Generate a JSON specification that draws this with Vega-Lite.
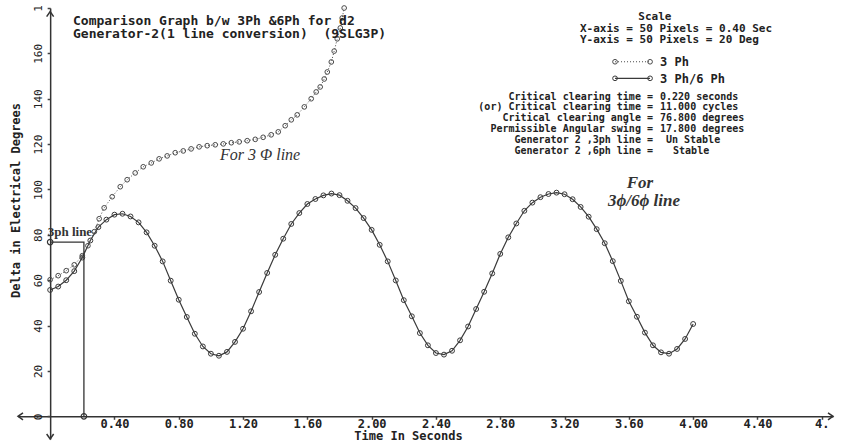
{
  "$schema": "https://vega.github.io/schema/vega-lite/v6.json",
  "width": 815,
  "height": 431,
  "autosize": {"type": "none"},
  "padding": {"left": 18, "top": 8, "right": 33, "bottom": 3},
  "background": "white",
  "config": {"view": {"stroke": null}},
  "datasets": {
    "p6": [
      {"t":0.00,"d":55.7},{"t":0.05,"d":57.2},{"t":0.10,"d":60.0},{"t":0.15,"d":64.0},{"t":0.20,"d":70.0},
      {"t":0.25,"d":77.5},{"t":0.30,"d":83.4},{"t":0.35,"d":86.7},{"t":0.40,"d":88.9},{"t":0.45,"d":89.3},
      {"t":0.50,"d":88.1},{"t":0.55,"d":85.5},{"t":0.60,"d":81.1},{"t":0.65,"d":75.2},{"t":0.70,"d":68.3},
      {"t":0.75,"d":59.8},{"t":0.80,"d":51.4},{"t":0.85,"d":43.8},{"t":0.90,"d":36.4},{"t":0.95,"d":30.8},
      {"t":1.00,"d":27.6},{"t":1.05,"d":26.7},{"t":1.10,"d":28.4},{"t":1.15,"d":32.8},{"t":1.20,"d":38.6},
      {"t":1.25,"d":46.3},{"t":1.30,"d":54.8},{"t":1.35,"d":63.2},{"t":1.40,"d":71.2},{"t":1.45,"d":78.3},
      {"t":1.50,"d":84.8},{"t":1.55,"d":89.6},{"t":1.60,"d":93.6},{"t":1.65,"d":95.8},{"t":1.70,"d":97.4},
      {"t":1.75,"d":98.2},{"t":1.80,"d":97.5},{"t":1.85,"d":95.0},{"t":1.90,"d":91.8},{"t":1.95,"d":87.4},
      {"t":2.00,"d":82.2},{"t":2.05,"d":75.6},{"t":2.10,"d":68.3},{"t":2.15,"d":59.9},{"t":2.20,"d":51.2},
      {"t":2.25,"d":44.1},{"t":2.30,"d":36.7},{"t":2.35,"d":31.3},{"t":2.40,"d":27.9},{"t":2.45,"d":27.2},
      {"t":2.50,"d":28.9},{"t":2.55,"d":33.5},{"t":2.60,"d":39.6},{"t":2.65,"d":47.3},{"t":2.70,"d":54.9},
      {"t":2.75,"d":63.0},{"t":2.80,"d":71.6},{"t":2.85,"d":78.9},{"t":2.90,"d":85.0},{"t":2.95,"d":90.6},
      {"t":3.00,"d":94.2},{"t":3.05,"d":96.6},{"t":3.10,"d":98.0},{"t":3.15,"d":98.6},{"t":3.20,"d":97.9},
      {"t":3.25,"d":95.7},{"t":3.30,"d":92.3},{"t":3.35,"d":88.0},{"t":3.40,"d":82.5},{"t":3.45,"d":76.3},
      {"t":3.50,"d":68.4},{"t":3.55,"d":59.7},{"t":3.60,"d":50.7},{"t":3.65,"d":43.9},{"t":3.70,"d":36.9},
      {"t":3.75,"d":31.3},{"t":3.80,"d":28.2},{"t":3.85,"d":27.6},{"t":3.90,"d":29.7},{"t":3.95,"d":34.1},
      {"t":4.00,"d":40.7}
    ],
    "p3": [
      {"t":0.000,"d":60.2},{"t":0.050,"d":62.0},{"t":0.100,"d":64.2},{"t":0.150,"d":66.8},{"t":0.200,"d":70.8},
      {"t":0.235,"d":75.2},{"t":0.275,"d":81.4},{"t":0.305,"d":87.1},{"t":0.336,"d":91.9},{"t":0.386,"d":96.8},
      {"t":0.436,"d":101.2},{"t":0.479,"d":104.3},{"t":0.529,"d":107.3},{"t":0.579,"d":110.0},{"t":0.629,"d":111.7},
      {"t":0.678,"d":113.5},{"t":0.728,"d":114.8},{"t":0.778,"d":116.2},{"t":0.828,"d":117.0},{"t":0.877,"d":117.9},
      {"t":0.927,"d":118.8},{"t":0.977,"d":119.3},{"t":1.027,"d":119.7},{"t":1.077,"d":120.1},{"t":1.127,"d":120.6},
      {"t":1.176,"d":121.0},{"t":1.226,"d":121.5},{"t":1.276,"d":122.1},{"t":1.325,"d":123.0},{"t":1.375,"d":124.1},
      {"t":1.419,"d":125.4},{"t":1.462,"d":128.1},{"t":1.500,"d":130.7},{"t":1.537,"d":132.9},{"t":1.581,"d":136.4},
      {"t":1.624,"d":140.0},{"t":1.655,"d":143.0},{"t":1.680,"d":145.2},{"t":1.705,"d":148.7},{"t":1.724,"d":151.8},
      {"t":1.749,"d":156.2},{"t":1.767,"d":161.0},{"t":1.786,"d":166.4},{"t":1.805,"d":171.2},{"t":1.817,"d":175.6},
      {"t":1.829,"d":180.0}
    ],
    "box": [{"t":0,"d":76.8,"o":1},{"t":0.21,"d":76.8,"o":2},{"t":0.21,"d":0,"o":3}],
    "boxpts": [{"t":0,"d":76.8},{"t":0.21,"d":0}],
    "arrows": [
      {"t":-0.2,"d":0,"dir":"left"},{"t":4.87,"d":0,"dir":"right"},
      {"t":0,"d":178.4,"dir":"up"},{"t":0,"d":-10,"dir":"down"}
    ],
    "leg3": [{"t":3.514,"d":156.3},{"t":3.732,"d":156.3}],
    "leg6": [{"t":3.514,"d":149.0},{"t":3.732,"d":149.0}],
    "legtext": [{"t":3.794,"d":156.3,"text":"3 Ph"},{"t":3.794,"d":148.8,"text":"3 Ph/6 Ph"}],
    "titles": [
      {"t":0.142,"d":172.5,"text":"Comparison Graph b/w 3Ph &6Ph for d2"},
      {"t":0.142,"d":166.6,"text":"Generator-2(1 line conversion) \u00a0(9SLG3P)"}
    ],
    "scaleC": [{"t":3.762,"d":174.9,"text":"Scale"}],
    "scaleL": [
      {"t":3.296,"d":169.6,"text":"X-axis = 50 Pixels = 0.40 Sec"},
      {"t":3.296,"d":164.5,"text":"Y-axis = 50 Pixels = 20 Deg"}
    ],
    "infoL": [
      {"t":3.750,"d":139.66,"text":"Critical clearing time ="},
      {"t":3.750,"d":134.90,"text":"(or) Critical clearing time ="},
      {"t":3.750,"d":130.14,"text":"Critical clearing angle ="},
      {"t":3.750,"d":125.37,"text":"Permissible Angular swing ="},
      {"t":3.750,"d":120.61,"text":"Generator 2 ,3ph line ="},
      {"t":3.750,"d":115.85,"text":"Generator 2 ,6ph line ="}
    ],
    "infoR": [
      {"t":3.794,"d":139.66,"text":"0.220 seconds"},
      {"t":3.794,"d":134.90,"text":"11.000 cycles"},
      {"t":3.794,"d":130.14,"text":"76.800 degrees"},
      {"t":3.794,"d":125.37,"text":"17.800 degrees"},
      {"t":3.831,"d":120.61,"text":"Un Stable"},
      {"t":3.875,"d":115.85,"text":"Stable"}
    ],
    "ital": [
      {"t":1.306,"d":115.2,"text":"For 3 Φ line"}
    ],
    "italB": [
      {"t":3.669,"d":102.9,"text":"For"},
      {"t":3.694,"d":94.9,"text":"3ϕ/6ϕ line"}
    ],
    "phline": [{"t":0.123,"d":81.2,"text":"3ph line"}]
  },
  "encoding": {
    "x": {
      "field": "t", "type": "quantitative",
      "scale": {"domain": [-0.2, 4.87], "nice": false, "zero": false},
      "axis": {
        "orient": "bottom", "offset": -22.7,
        "values": [0.4, 0.8, 1.2, 1.6, 2.0, 2.4, 2.8, 3.2, 3.6, 4.0, 4.4, 4.8],
        "labelExpr": "datum.value > 4.7 ? '4.\u00a0\u00a0' : format(datum.value, '.2f')",
        "labelFont": "DejaVu Sans Mono", "labelFontWeight": "bold", "labelFontSize": 12,
        "labelColor": "#222", "labelPadding": -1, "labelFlush": false, "labelOverlap": false,
        "tickSize": 3, "tickWidth": 1.5, "tickColor": "#444",
        "domainColor": "#333", "domainWidth": 1.5, "grid": false,
        "title": "Time In Seconds", "titleFont": "DejaVu Sans Mono", "titleFontWeight": "bold",
        "titleFontSize": 12, "titleColor": "#222", "titleX": 390, "titleY": 23.5,
        "titleBaseline": "alphabetic", "titleAlign": "center"
      }
    },
    "y": {
      "field": "d", "type": "quantitative",
      "scale": {"domain": [-10, 180], "nice": false, "zero": false},
      "axis": {
        "orient": "left", "offset": -32.15,
        "values": [0, 20, 40, 60, 80, 100, 120, 140, 160, 180],
        "labelExpr": "datum.value == 180 ? '1\u00a0\u00a0' : datum.label",
        "labelAngle": -90, "labelAlign": "center", "labelBaseline": "middle",
        "labelFont": "DejaVu Sans Mono", "labelFontSize": 11, "labelColor": "#222",
        "labelPadding": 9, "labelFlush": false, "labelOverlap": false,
        "tickSize": 3, "tickWidth": 1.5, "tickColor": "#444",
        "domainColor": "#333", "domainWidth": 1.5, "grid": false,
        "title": "Delta in Electrical Degrees", "titleFont": "DejaVu Sans Mono", "titleFontWeight": "bold",
        "titleFontSize": 12, "titleColor": "#222", "titleAngle": 270,
        "titleX": -35, "titleY": 192, "titleAlign": "center", "titleBaseline": "middle"
      }
    }
  },
  "layer": [
    {"data": {"name": "p6"}, "mark": {"type": "line", "stroke": "#3a3a3a", "strokeWidth": 1.2}},
    {"data": {"name": "p6"}, "mark": {"type": "point", "shape": "circle", "filled": false, "size": 24, "stroke": "#3a3a3a", "strokeWidth": 1, "opacity": 1}},
    {"data": {"name": "p3"}, "mark": {"type": "line", "stroke": "#4a4a4a", "strokeWidth": 1, "strokeDash": [1, 2]}},
    {"data": {"name": "p3"}, "mark": {"type": "point", "shape": "circle", "filled": false, "size": 22, "stroke": "#4a4a4a", "strokeWidth": 1, "opacity": 1}},
    {"data": {"name": "box"}, "mark": {"type": "line", "stroke": "#333", "strokeWidth": 1.3}, "encoding": {"order": {"field": "o", "type": "quantitative"}}},
    {"data": {"name": "boxpts"}, "mark": {"type": "point", "shape": "circle", "filled": false, "size": 30, "stroke": "#333", "strokeWidth": 1.2, "opacity": 1}},
    {"data": {"name": "arrows"}, "mark": {"type": "point", "filled": false, "size": 100, "stroke": "#333", "strokeWidth": 1.5, "opacity": 1},
     "encoding": {"shape": {"field": "dir", "type": "nominal", "legend": null,
       "scale": {"domain": ["left", "right", "up", "down"],
                 "range": ["M1,-0.7L0,0L1,0.7", "M-1,-0.7L0,0L-1,0.7", "M-0.7,1L0,0L0.7,1", "M-0.7,-1L0,0L0.7,-1"]}}}},
    {"data": {"name": "leg3"}, "mark": {"type": "line", "stroke": "#4a4a4a", "strokeWidth": 1, "strokeDash": [1, 2]}},
    {"data": {"name": "leg3"}, "mark": {"type": "point", "shape": "circle", "filled": false, "size": 22, "stroke": "#4a4a4a", "strokeWidth": 1, "opacity": 1}},
    {"data": {"name": "leg6"}, "mark": {"type": "line", "stroke": "#3a3a3a", "strokeWidth": 1.2}},
    {"data": {"name": "leg6"}, "mark": {"type": "point", "shape": "circle", "filled": false, "size": 22, "stroke": "#3a3a3a", "strokeWidth": 1, "opacity": 1}},
    {"data": {"name": "legtext"}, "mark": {"type": "text", "align": "left", "baseline": "middle", "font": "DejaVu Sans Mono", "fontWeight": "bold", "fontSize": 12, "fill": "#222"}, "encoding": {"text": {"field": "text"}}},
    {"data": {"name": "titles"}, "mark": {"type": "text", "align": "left", "baseline": "alphabetic", "font": "DejaVu Sans Mono", "fontWeight": "bold", "fontSize": 13, "fill": "#222"}, "encoding": {"text": {"field": "text"}}},
    {"data": {"name": "scaleC"}, "mark": {"type": "text", "align": "center", "baseline": "alphabetic", "font": "DejaVu Sans Mono", "fontWeight": "bold", "fontSize": 11, "fill": "#222"}, "encoding": {"text": {"field": "text"}}},
    {"data": {"name": "scaleL"}, "mark": {"type": "text", "align": "left", "baseline": "alphabetic", "font": "DejaVu Sans Mono", "fontWeight": "bold", "fontSize": 11, "fill": "#222"}, "encoding": {"text": {"field": "text"}}},
    {"data": {"name": "infoL"}, "mark": {"type": "text", "align": "right", "baseline": "alphabetic", "font": "DejaVu Sans Mono", "fontWeight": "bold", "fontSize": 10, "fill": "#222"}, "encoding": {"text": {"field": "text"}}},
    {"data": {"name": "infoR"}, "mark": {"type": "text", "align": "left", "baseline": "alphabetic", "font": "DejaVu Sans Mono", "fontWeight": "bold", "fontSize": 10, "fill": "#222"}, "encoding": {"text": {"field": "text"}}},
    {"data": {"name": "ital"}, "mark": {"type": "text", "align": "center", "baseline": "middle", "font": "Liberation Serif", "fontStyle": "italic", "fontSize": 16, "fill": "#333"}, "encoding": {"text": {"field": "text"}}},
    {"data": {"name": "italB"}, "mark": {"type": "text", "align": "center", "baseline": "middle", "font": "Liberation Serif", "fontStyle": "italic", "fontWeight": "bold", "fontSize": 17, "fill": "#333"}, "encoding": {"text": {"field": "text"}}},
    {"data": {"name": "phline"}, "mark": {"type": "text", "align": "center", "baseline": "middle", "font": "Liberation Serif", "fontWeight": "bold", "fontSize": 13, "fill": "#333"}, "encoding": {"text": {"field": "text"}}}
  ]
}
